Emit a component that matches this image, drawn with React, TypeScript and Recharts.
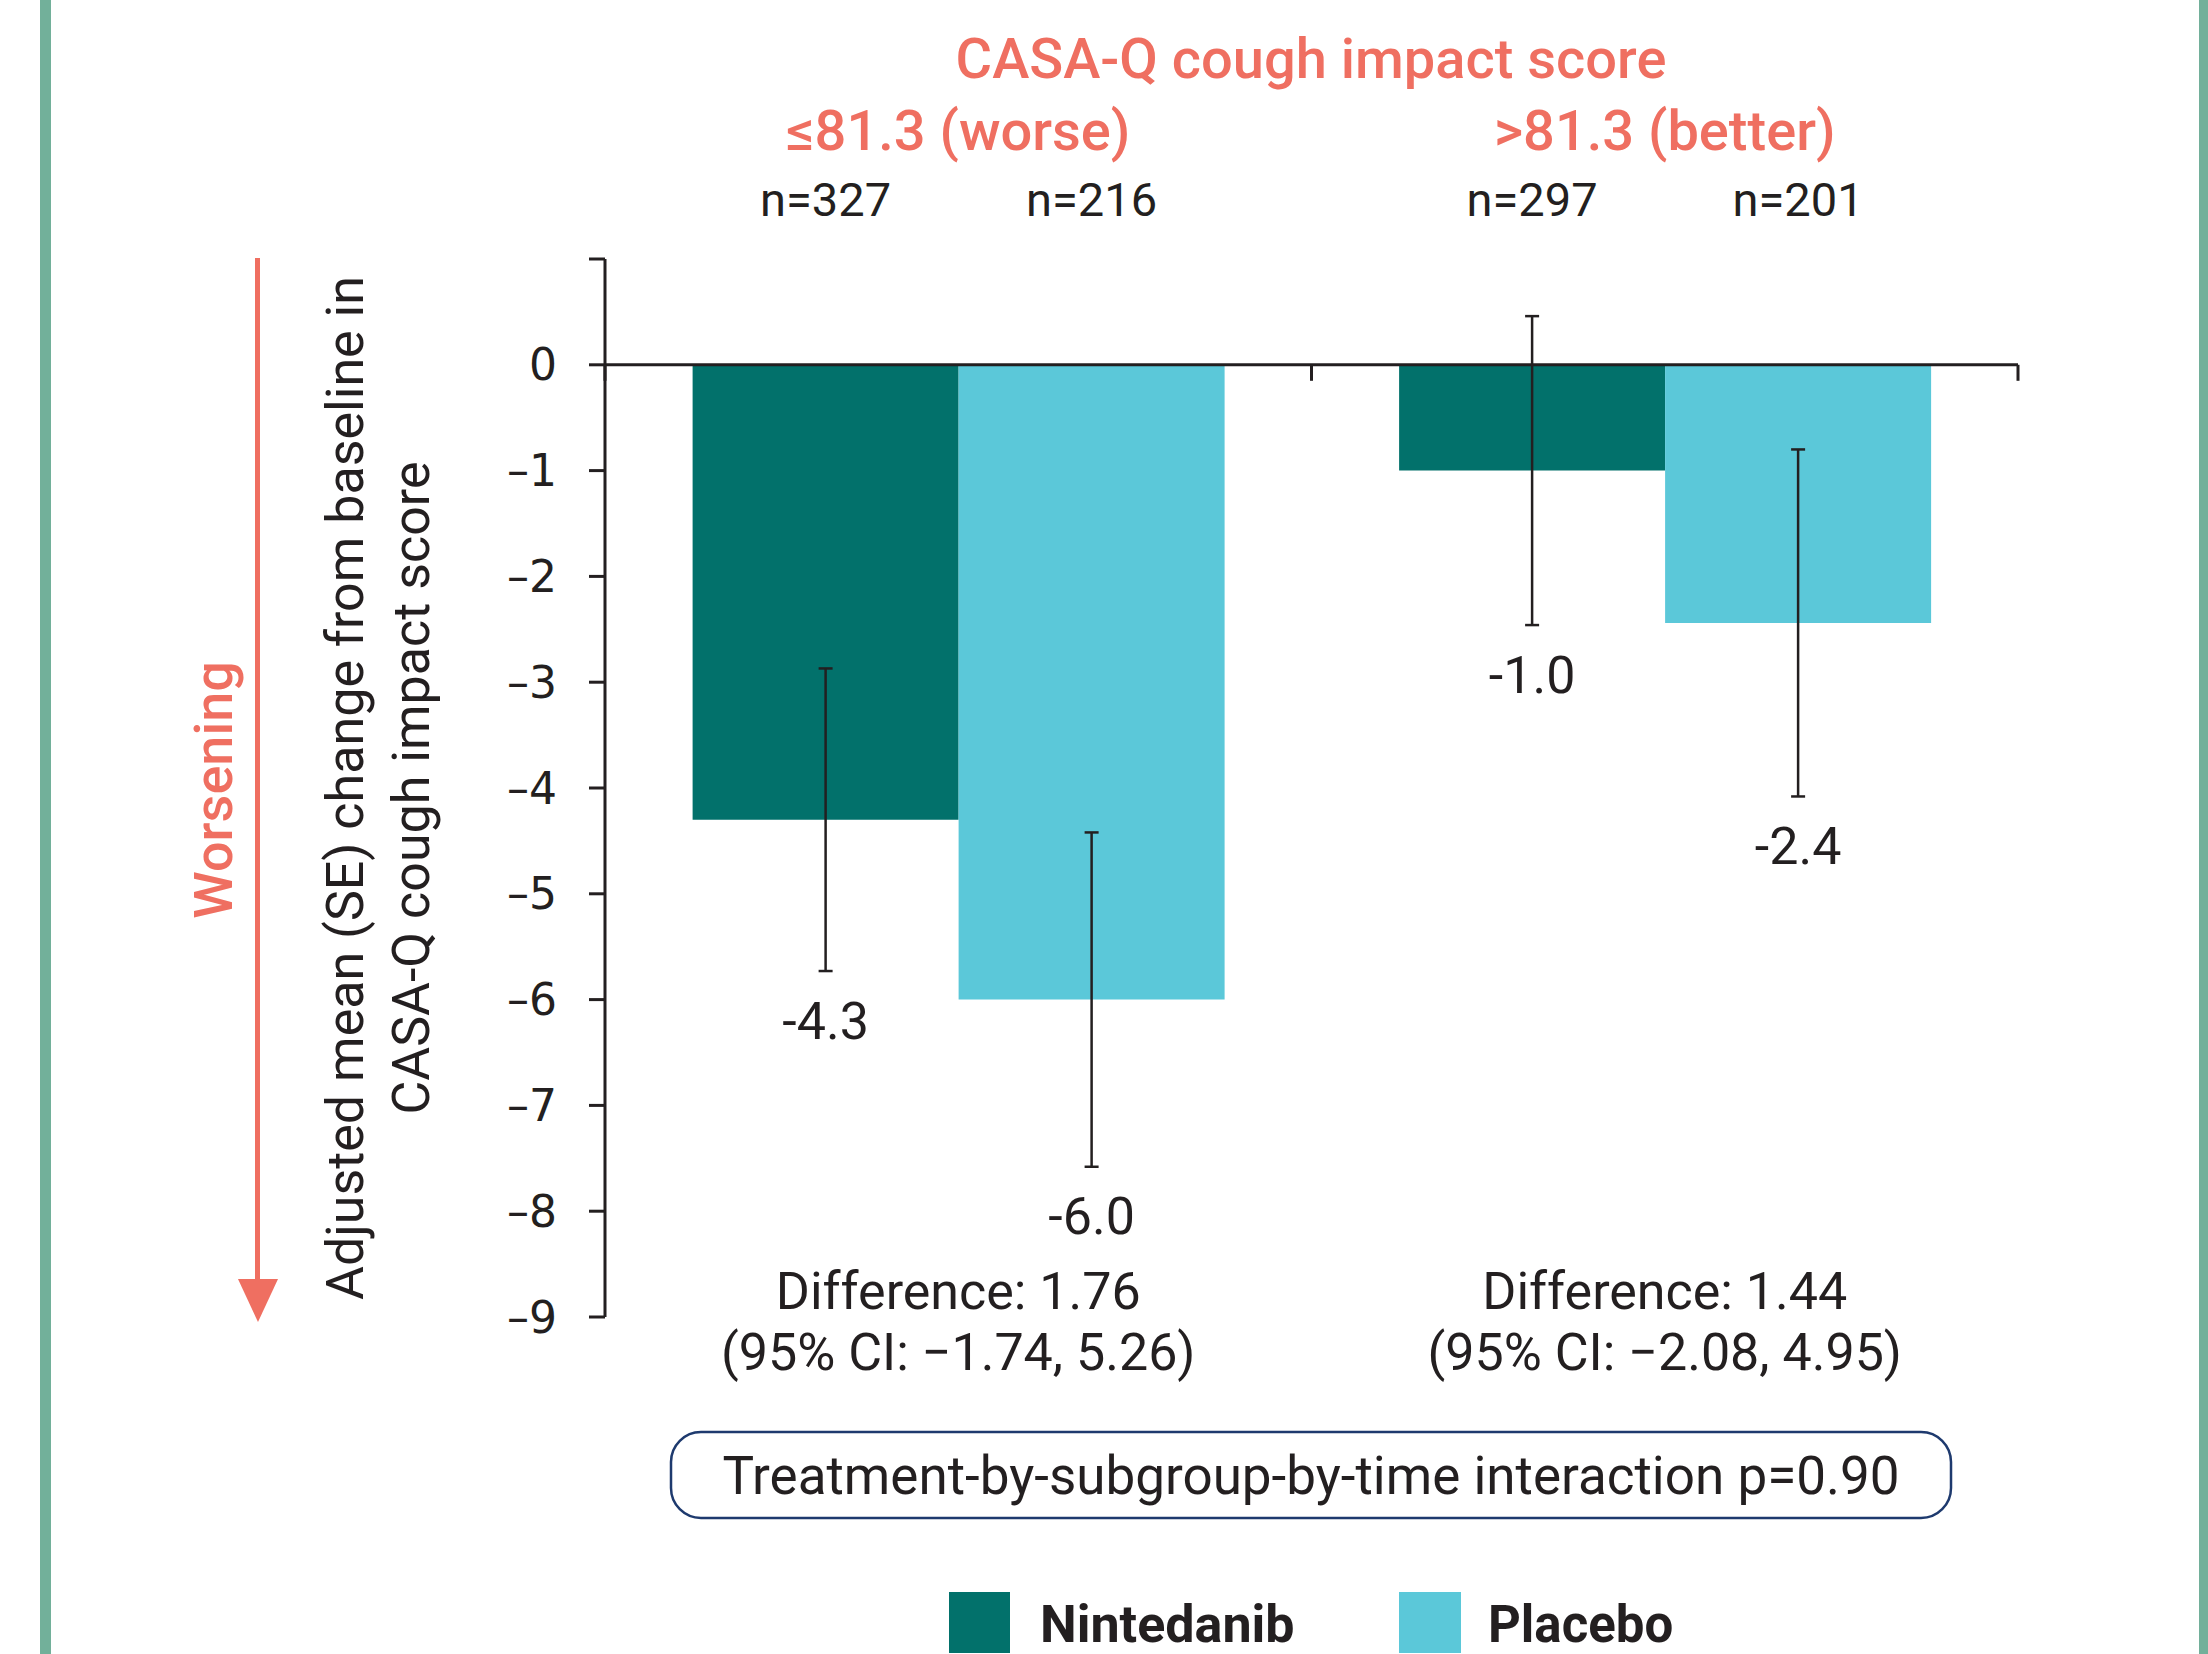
import React from 'react';
import { BarChart, Bar, XAxis, YAxis, ErrorBar, LabelList, ReferenceLine } from 'recharts';

const groups = ['≤81.3 (worse)', '>81.3 (better)'];
const nintedanibMean = [-4.3, -1.0];
const placeboMean = [-6.0, -2.44];
const nintedanibSE = [1.43, 1.46];
const placeboSE = [1.58, 1.64];
const nintedanibN = [327, 297];
const placeboN = [216, 201];
const differences = ['Difference: 1.76', 'Difference: 1.44'];
const confIntervals = ['(95% CI: \u22121.74, 5.26)', '(95% CI: \u22122.08, 4.95)'];
const yTicks = [1, 0, -1, -2, -3, -4, -5, -6, -7, -8, -9];
const seriesNames = ['Nintedanib', 'Placebo'];

const RED = '#EF6F61';
const TEAL = '#02716B';
const CYAN = '#5BC8D9';
const INK = '#231F20';
const FONT = 'Roboto, "Noto Sans", sans-serif';

const data = groups.map((g, i) => ({
  group: g,
  nin: nintedanibMean[i],
  pla: placeboMean[i],
  ninErr: nintedanibSE[i],
  plaErr: placeboSE[i],
  ninN: nintedanibN[i],
  plaN: placeboN[i],
}));

const rectOf = (props: any) => {
  const vb = props.viewBox && props.viewBox.width !== undefined ? props.viewBox : props;
  const x = Number(vb.x), y = Number(vb.y), w = Number(vb.width), h = Number(vb.height);
  return { x, w, top: Math.min(y, y + h), bottom: Math.max(y, y + h) };
};

const valueLabel = (means: number[], errs: number[]) => (props: any) => {
  const v = Number(props.value);
  let idx = props.index;
  if (idx === undefined || idx === null) idx = means.indexOf(v);
  const { x, w, top, bottom } = rectOf(props);
  const ppu = (bottom - top) / Math.abs(v);
  const errBottom = top + (Math.abs(v) + errs[idx]) * ppu;
  return (
    <text x={x + w / 2} y={errBottom + 50} textAnchor="middle" dominantBaseline="central"
      fontFamily={FONT} fontSize={52} fill={INK}>{v.toFixed(1)}</text>
  );
};

const nLabel = (props: any) => {
  const { x, w, top } = rectOf(props);
  return (
    <text x={x + w / 2} y={top - 165} textAnchor="middle" dominantBaseline="central"
      fontFamily={FONT} fontSize={47} fill={INK}>{'n=' + props.value}</text>
  );
};

const GroupTick = (props: any) => {
  const { x, y, payload } = props;
  return (
    <text x={x} y={y - 128} textAnchor="middle" dominantBaseline="central"
      fontFamily={FONT} fontSize={56} fontWeight={500} fill={RED}>{payload.value}</text>
  );
};

const DiffTick = (props: any) => {
  const { x, y, payload } = props;
  const i = groups.indexOf(payload.value);
  return (
    <g>
      <text x={x} y={y - 26} textAnchor="middle" dominantBaseline="central"
        fontFamily={FONT} fontSize={52} fill={INK}>{differences[i]}</text>
      <text x={x} y={y + 35} textAnchor="middle" dominantBaseline="central"
        fontFamily={FONT} fontSize={52} fill={INK}>{confIntervals[i]}</text>
    </g>
  );
};

const ZeroLine = (props: any) => {
  const { x1, y1, x2, y2 } = props;
  const n = groups.length;
  const ticks = [];
  for (let i = 0; i <= n; i++) {
    const tx = x1 + ((x2 - x1) * i) / n;
    ticks.push(<line key={i} x1={tx} y1={y1} x2={tx} y2={y1 + 16} stroke={INK} strokeWidth={3} />);
  }
  return (
    <g>
      <line x1={x1} y1={y1} x2={x2} y2={y2} stroke={INK} strokeWidth={3} />
      {ticks}
    </g>
  );
};

const YLabel = (props: any) => {
  const vb = props.viewBox || {};
  const cy = Number(vb.y) + Number(vb.height) / 2;
  return (
    <g>
      <text x={345} y={cy} transform={`rotate(-90 345 ${cy})`} textAnchor="middle" dominantBaseline="central"
        fontFamily={FONT} fontSize={52} fill={INK}>Adjusted mean (SE) change from baseline in</text>
      <text x={411} y={cy} transform={`rotate(-90 411 ${cy})`} textAnchor="middle" dominantBaseline="central"
        fontFamily={FONT} fontSize={52} fill={INK}>CASA-Q cough impact score</text>
    </g>
  );
};

const fmtY = (v: number) => (v === 1 ? '' : v < 0 ? '\u2013' + Math.abs(v) : String(v));

export default function App() {
  return (
    <div style={{ position: 'absolute', left: 0, top: 0, width: 2208, height: 1654, background: '#fff', overflow: 'hidden' }}>
      <BarChart width={2208} height={1654} data={data}
        margin={{ top: 199, right: 190, bottom: 277, left: 405 }}
        barCategoryGap="12.4%" barGap={0}>
        <XAxis xAxisId="top" orientation="top" dataKey="group" height={60} axisLine={false} tickLine={false}
          tickSize={0} tickMargin={0} tick={GroupTick} interval={0} />
        <XAxis dataKey="group" height={60} axisLine={false} tickLine={false} tickSize={0} tickMargin={0}
          tick={DiffTick} interval={0} />
        <YAxis width={200} domain={[-9, 1]} ticks={yTicks} type="number" allowDataOverflow
          tickFormatter={fmtY} tickSize={16} tickMargin={32}
          axisLine={{ stroke: INK, strokeWidth: 3 }} tickLine={{ stroke: INK, strokeWidth: 3 }}
          tick={{ fontFamily: '"DejaVu Sans", sans-serif', fontSize: 44, fill: INK }}
          label={{ content: YLabel }} interval={0} />
        <Bar dataKey="nin" name={seriesNames[0]} fill={TEAL} isAnimationActive={false}>
          <ErrorBar dataKey="ninErr" width={7} strokeWidth={2.5} stroke={INK} isAnimationActive={false} />
          <LabelList dataKey="nin" content={valueLabel(nintedanibMean, nintedanibSE)} />
          <LabelList dataKey="ninN" content={nLabel} />
        </Bar>
        <Bar dataKey="pla" name={seriesNames[1]} fill={CYAN} isAnimationActive={false}>
          <ErrorBar dataKey="plaErr" width={7} strokeWidth={2.5} stroke={INK} isAnimationActive={false} />
          <LabelList dataKey="pla" content={valueLabel(placeboMean, placeboSE)} />
          <LabelList dataKey="plaN" content={nLabel} />
        </Bar>
        <ReferenceLine y={0} shape={ZeroLine} />
      </BarChart>
      <svg width={2208} height={1654} style={{ position: 'absolute', left: 0, top: 0, pointerEvents: 'none' }}>
        <rect x={40} y={0} width={11} height={1654} fill="#72B09A" />
        <rect x={2199} y={0} width={9} height={1654} fill="#72B09A" />
        <text x={1311} y={59} textAnchor="middle" dominantBaseline="central" fontFamily={FONT}
          fontSize={56} fontWeight={500} fill={RED}>CASA-Q cough impact score</text>
        <line x1={257.5} y1={258} x2={257.5} y2={1285} stroke={RED} strokeWidth={5} />
        <polygon points="238,1279 278,1279 258,1322" fill={RED} />
        <text x={213} y={790} transform="rotate(-90 213 790)" textAnchor="middle" dominantBaseline="central"
          fontFamily={FONT} fontSize={54} fontWeight={500} fill={RED}>Worsening</text>
        <rect x={671} y={1432} width={1280} height={86} rx={30} ry={30} fill="#fff" stroke="#1E3A6E" strokeWidth={2.5} />
        <text x={1311} y={1476} textAnchor="middle" dominantBaseline="central" fontFamily={FONT}
          fontSize={53} fill={INK}>Treatment-by-subgroup-by-time interaction p=0.90</text>
        <rect x={949} y={1592} width={61} height={61} fill={TEAL} />
        <text x={1040} y={1624} dominantBaseline="central" fontFamily={FONT} fontSize={52} fontWeight={700} fill={INK}>{seriesNames[0]}</text>
        <rect x={1399} y={1592} width={62} height={61} fill={CYAN} />
        <text x={1488} y={1624} dominantBaseline="central" fontFamily={FONT} fontSize={51} fontWeight={700} fill={INK}>{seriesNames[1]}</text>
      </svg>
    </div>
  );
}
